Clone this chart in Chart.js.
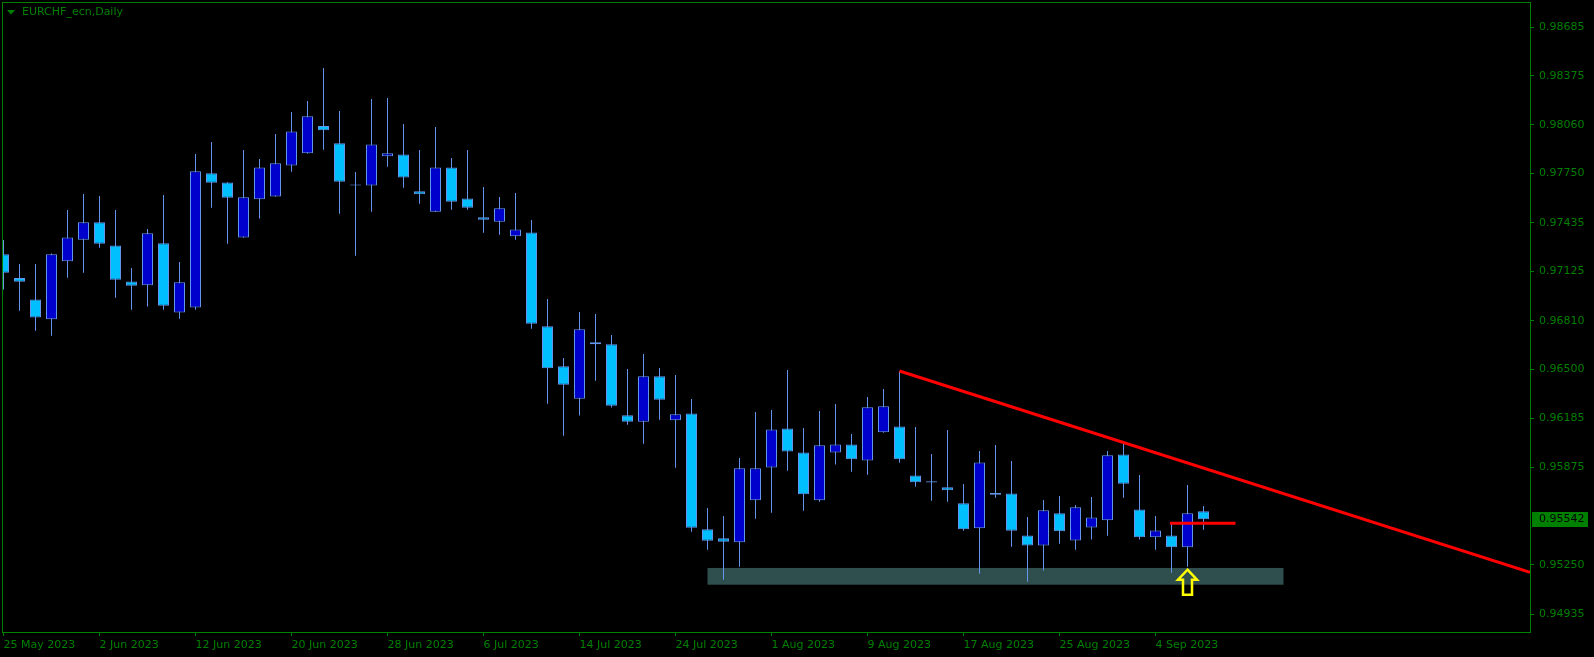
<!doctype html>
<meta charset="utf-8">
<script src="https://cdn.jsdelivr.net/npm/chart.js@4.4.1/dist/chart.umd.min.js"></script>
<style>
    html, body { margin: 0; padding: 0; background: #000; }
    #wrap { width: 1594px; height: 657px; }
</style>

<div id="wrap"><canvas id="chart"></canvas></div>

<script>
    // EURCHF daily candles, 25 May 2023 .. 7 Sep 2023 (bar index 0..75)
    const dateTicks = [0, 6, 12, 18, 24, 30, 36, 42, 48, 54, 60, 66, 72];
    const dateLabels = ["25 May 2023", "2 Jun 2023", "12 Jun 2023", "20 Jun 2023", "28 Jun 2023", "6 Jul 2023",
        "14 Jul 2023", "24 Jul 2023", "1 Aug 2023", "9 Aug 2023", "17 Aug 2023", "25 Aug 2023", "4 Sep 2023"];
    const priceTicks = [0.98685, 0.98375, 0.98060, 0.97750, 0.97435, 0.97125, 0.96810,
        0.96500, 0.96185, 0.95875, 0.95250, 0.94935];

    const open = [0.97234, 0.97083, 0.96946, 0.96819, 0.97189, 0.97327, 0.97438, 0.97291, 0.97061, 0.97036,
        0.97304, 0.96863, 0.96895, 0.97751, 0.97693, 0.97342, 0.97585, 0.97604, 0.97802, 0.97879,
        0.98053, 0.97943, 0.97674, 0.97674, 0.97860, 0.97872, 0.97636, 0.97506, 0.97789, 0.97591,
        0.97470, 0.97442, 0.97349, 0.97374, 0.96774, 0.96519, 0.96312, 0.96659, 0.96659, 0.96206,
        0.96165, 0.96455, 0.96174, 0.96218, 0.95478, 0.95420, 0.95395, 0.95663, 0.95873, 0.96122,
        0.95969, 0.95663, 0.95969, 0.96020, 0.95918, 0.96097, 0.96135, 0.95822, 0.95784, 0.95746,
        0.95644, 0.95484, 0.95710, 0.95707, 0.95439, 0.95375, 0.95580, 0.95407, 0.95490, 0.95535,
        0.95956, 0.95605, 0.95427, 0.95439, 0.95363, 0.95593];
    const high = [0.97325, 0.97172, 0.97172, 0.97240, 0.97517, 0.97619, 0.97606, 0.97517, 0.97146, 0.97396,
        0.97613, 0.97185, 0.97874, 0.97951, 0.97695, 0.97900, 0.97843, 0.98002, 0.98143, 0.98213,
        0.98424, 0.98149, 0.97760, 0.98226, 0.98232, 0.98066, 0.97900, 0.98047, 0.97849, 0.97900,
        0.97664, 0.97600, 0.97625, 0.97453, 0.96949, 0.96572, 0.96866, 0.96853, 0.96719, 0.96502,
        0.96597, 0.96508, 0.96463, 0.96310, 0.95614, 0.95563, 0.95933, 0.96227, 0.96240, 0.96495,
        0.96125, 0.96233, 0.96278, 0.96086, 0.96323, 0.96374, 0.96489, 0.96131, 0.95959, 0.96112,
        0.95767, 0.95978, 0.96016, 0.95914, 0.95556, 0.95665, 0.95690, 0.95633, 0.95684, 0.95978,
        0.96027, 0.95825, 0.95563, 0.95516, 0.95761, 0.95627];
    const low = [0.97010, 0.96874, 0.96746, 0.96714, 0.97085, 0.97117, 0.97276, 0.96957, 0.96880, 0.96900,
        0.96880, 0.96823, 0.96880, 0.97532, 0.97302, 0.97340, 0.97462, 0.97602, 0.97762, 0.97877,
        0.97902, 0.97493, 0.97225, 0.97506, 0.97794, 0.97659, 0.97557, 0.97504, 0.97519, 0.97519,
        0.97372, 0.97359, 0.97327, 0.96759, 0.96280, 0.96076, 0.96204, 0.96427, 0.96255, 0.96146,
        0.96025, 0.96178, 0.95871, 0.95463, 0.95348, 0.95156, 0.95239, 0.95546, 0.95584, 0.95852,
        0.95597, 0.95654, 0.95891, 0.95846, 0.95827, 0.96095, 0.95903, 0.95750, 0.95661, 0.95654,
        0.95469, 0.95194, 0.95680, 0.95367, 0.95143, 0.95214, 0.95386, 0.95348, 0.95412, 0.95437,
        0.95680, 0.95412, 0.95348, 0.95201, 0.95239, 0.95475];
    const close = [0.97117, 0.97059, 0.96831, 0.97234, 0.97342, 0.97438, 0.97302, 0.97072, 0.97034, 0.97368,
        0.96906, 0.97055, 0.97764, 0.97691, 0.97596, 0.97598, 0.97789, 0.97815, 0.98019, 0.98115,
        0.98026, 0.97698, 0.97674, 0.97936, 0.97879, 0.97725, 0.97617, 0.97789, 0.97570, 0.97532,
        0.97455, 0.97528, 0.97393, 0.96791, 0.96506, 0.96401, 0.96755, 0.96672, 0.96267, 0.96165,
        0.96455, 0.96306, 0.96212, 0.95488, 0.95405, 0.95399, 0.95867, 0.95867, 0.96116, 0.95974,
        0.95701, 0.96014, 0.96020, 0.95925, 0.96257, 0.96263, 0.95925, 0.95778, 0.95776, 0.95727,
        0.95478, 0.95905, 0.95699, 0.95469, 0.95375, 0.95599, 0.95465, 0.95618, 0.95554, 0.95950,
        0.95769, 0.95427, 0.95471, 0.95363, 0.95580, 0.95542];

    // drawn objects
    const trendLine = [{x: 56, y: 0.96489}, {x: 95.41, y: 0.95203}];
    const levelLine = [{x: 72.9, y: 0.95516}, {x: 77, y: 0.95516}];
    const zone = {from: 44, to: 80, top: 0.95231, bottom: 0.95124};
    const arrowBar = 74;

    const GREEN = "#008000";
    const WICK = "#6495ED";
    const BULL = "#0000CD";
    const BEAR = "#00BFFF";

    Chart.defaults.font.family = "DejaVu Sans";
    Chart.defaults.font.size = 11;

    const idx = open.map((_, i) => i);
    const bullish = i => close[i] > open[i];

    const decor = {
        id: "decor",
        beforeDatasetsDraw(chart) {
            const {ctx, scales: {x, y}} = chart;
            const a = chart.chartArea;
            ctx.save();
            ctx.beginPath();
            ctx.rect(a.left, a.top, a.right - a.left, a.bottom - a.top);
            ctx.clip();
            const x0 = x.getPixelForValue(zone.from), x1 = x.getPixelForValue(zone.to);
            const y0 = y.getPixelForValue(zone.top), y1 = y.getPixelForValue(zone.bottom);
            ctx.fillStyle = "#2F4F4F";
            ctx.fillRect(x0, y0, x1 - x0, y1 - y0);
            ctx.restore();
        },
        afterDraw(chart) {
            const {ctx, scales: {x, y}} = chart;
            const a = chart.chartArea;
            ctx.save();
            // frame
            ctx.strokeStyle = GREEN;
            ctx.lineWidth = 1;
            ctx.strokeRect(a.left - 0.5, a.top - 0.5, a.right - a.left + 1, a.bottom - a.top + 1);

            // arrow under the bar's low
            const cx = x.getPixelForValue(arrowBar);
            const ty = y.getPixelForValue(low[arrowBar]) + 3;
            ctx.beginPath();
            ctx.moveTo(cx, ty);
            ctx.lineTo(cx + 9.5, ty + 10);
            ctx.lineTo(cx + 4.5, ty + 10);
            ctx.lineTo(cx + 4.5, ty + 25);
            ctx.lineTo(cx - 4.5, ty + 25);
            ctx.lineTo(cx - 4.5, ty + 10);
            ctx.lineTo(cx - 9.5, ty + 10);
            ctx.closePath();
            ctx.lineJoin = "miter";
            ctx.strokeStyle = "#FFFF00";
            ctx.lineWidth = 2.5;
            ctx.stroke();

            // title
            ctx.fillStyle = GREEN;
            ctx.beginPath();
            ctx.moveTo(7, 10);
            ctx.lineTo(15, 10);
            ctx.lineTo(11, 14.5);
            ctx.closePath();
            ctx.fill();
            ctx.font = "11px 'DejaVu Sans'";
            ctx.textBaseline = "middle";
            ctx.textAlign = "left";
            ctx.fillText("EURCHF_ecn,Daily", 22, 12.5);

            // last price tag
            const last = close[close.length - 1];
            const py = Math.round(y.getPixelForValue(last));
            ctx.fillStyle = GREEN;
            ctx.fillRect(a.right + 2, py - 7, 56, 15);
            ctx.fillStyle = "#000";
            ctx.fillText(last.toFixed(5), a.right + 9, py + 0.5);
            ctx.restore();
        }
    };

    const noPad = s => {
        s.paddingTop = 0;
        s.paddingBottom = 0;
        s.paddingLeft = 0;
        s.paddingRight = 0;
    };

    new Chart(document.getElementById("chart"), {
        type: "bar",
        plugins: [decor],
        data: {
            datasets: [{
                type: "line",
                order: 0,
                data: trendLine,
                borderColor: "#FF0000",
                borderWidth: 3,
                pointRadius: 0
            }, {
                type: "line",
                order: 0,
                data: levelLine,
                borderColor: "#FF0000",
                borderWidth: 3,
                pointRadius: 0
            }, {
                order: 1,
                data: idx.map(i => ({x: i, y: [open[i], close[i]]})),
                backgroundColor: ctx => bullish(ctx.dataIndex) ? BULL : BEAR,
                borderColor: WICK,
                borderWidth: 1,
                borderSkipped: false,
                barThickness: 11,
                minBarLength: 1,
                inflateAmount: 0,
                grouped: false
            }, {
                order: 2,
                data: idx.map(i => ({x: i, y: [low[i], high[i]]})),
                backgroundColor: WICK,
                borderWidth: 0,
                barThickness: 1,
                inflateAmount: 0,
                grouped: false
            }]
        },
        options: {
            responsive: true,
            maintainAspectRatio: false,
            animation: false,
            layout: {padding: {left: 3, top: 3, right: 0, bottom: 0}},
            plugins: {legend: {display: false}, tooltip: {enabled: false}},
            scales: {
                x: {
                    type: "linear",
                    offset: false,
                    min: -0.03125,
                    max: 95.40625,
                    afterFit: s => { s.height = 25; noPad(s); },
                    afterBuildTicks: s => { s.ticks = dateTicks.map(v => ({value: v})); },
                    grid: {offset: false, drawOnChartArea: false, color: GREEN, tickLength: 4},
                    border: {display: false},
                    ticks: {
                        autoSkip: false,
                        maxRotation: 0,
                        align: "start",
                        padding: 3,
                        color: GREEN,
                        callback: v => dateLabels[dateTicks.indexOf(v)]
                    }
                },
                y: {
                    position: "right",
                    min: 0.94822,
                    max: 0.98839,
                    afterFit: s => { s.width = 64; noPad(s); },
                    afterBuildTicks: s => { s.ticks = priceTicks.map(v => ({value: v})); },
                    grid: {drawOnChartArea: false, color: GREEN, tickLength: 4},
                    border: {display: false},
                    ticks: {
                        padding: 5,
                        color: GREEN,
                        callback: v => v.toFixed(5)
                    }
                }
            }
        }
    });
</script>
